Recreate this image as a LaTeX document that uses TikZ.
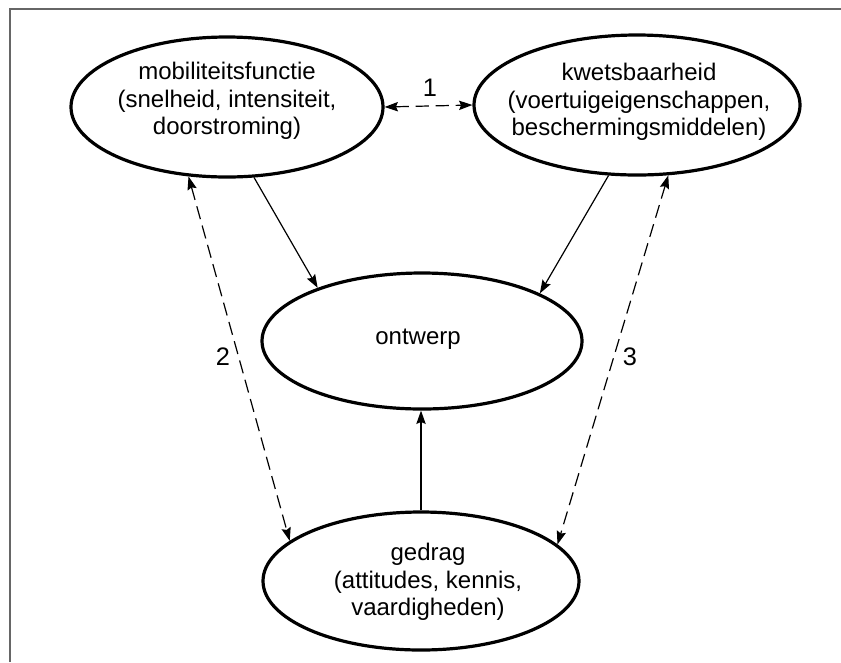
\documentclass[tikz,border=0pt]{standalone}
\usepackage{fontspec}
\setmainfont{Liberation Sans}
\usetikzlibrary{arrows.meta,shapes.geometric}
\begin{document}
\begin{tikzpicture}[x=0.75pt,y=-0.75pt,
  ell/.style={draw,ellipse,line width=2.4pt,inner sep=0pt},
  txt/.style={align=center,font=\fontsize{18}{20.6}\selectfont,inner sep=0pt},
  lbl/.style={font=\fontsize{19}{22}\selectfont,inner sep=0pt},
  conn/.style={line width=0.9pt,-{Stealth[length=10pt,width=7pt,inset=1.5pt]}},
  dconn/.style={line width=0.9pt,dash pattern=on 10pt off 5pt,{Stealth[length=10pt,width=7pt,inset=1.5pt]}-{Stealth[length=10pt,width=7pt,inset=1.5pt]}}]
\useasboundingbox (0,0) rectangle (841,662);
\coordinate (FA) at (10,662);
\coordinate (FB) at (10,9);
\coordinate (FC) at (841,9);
\draw[gray!80!black,line width=0.8pt] (FA) -- (FB) -- (FC);

\node[ell,minimum width=234pt,minimum height=105pt] (E1) at (227,107) {};
\node[txt] (T1) at (227,101) {mobiliteitsfunctie\\(snelheid, intensiteit,\\doorstroming)};
\node[ell,minimum width=244.5pt,minimum height=105pt] (E2) at (637,105) {};
\node[txt] (T2) at (639,102) {kwetsbaarheid\\(voertuigeigenschappen,\\beschermingsmiddelen)};
\node[ell,minimum width=240pt,minimum height=102pt] (E3) at (422,341) {};
\node[txt] (T3) at (418,339) {ontwerp};
\node[ell,minimum width=237pt,minimum height=103.5pt] (E4) at (421,581) {};
\node[txt] (T4) at (428,582) {gedrag\\(attitudes, kennis,\\vaardigheden)};

\draw[dconn] (E1.east) -- (E2.west);
\node[lbl] (L1) at (430,88) {1};
\draw[conn] (E1.-69) -- (E3.153);
\draw[conn] (E2.248) -- (E3.22);
\draw[conn] (E4.north) -- (E4.north |- E3.south);
\draw[dconn] (E1.241) -- (E4.163);
\node[lbl] (L2) at (223,357) {2};
\draw[dconn] (E2.-66) -- (E4.15);
\node[lbl] (L3) at (630,357) {3};
\end{tikzpicture}
\end{document}
